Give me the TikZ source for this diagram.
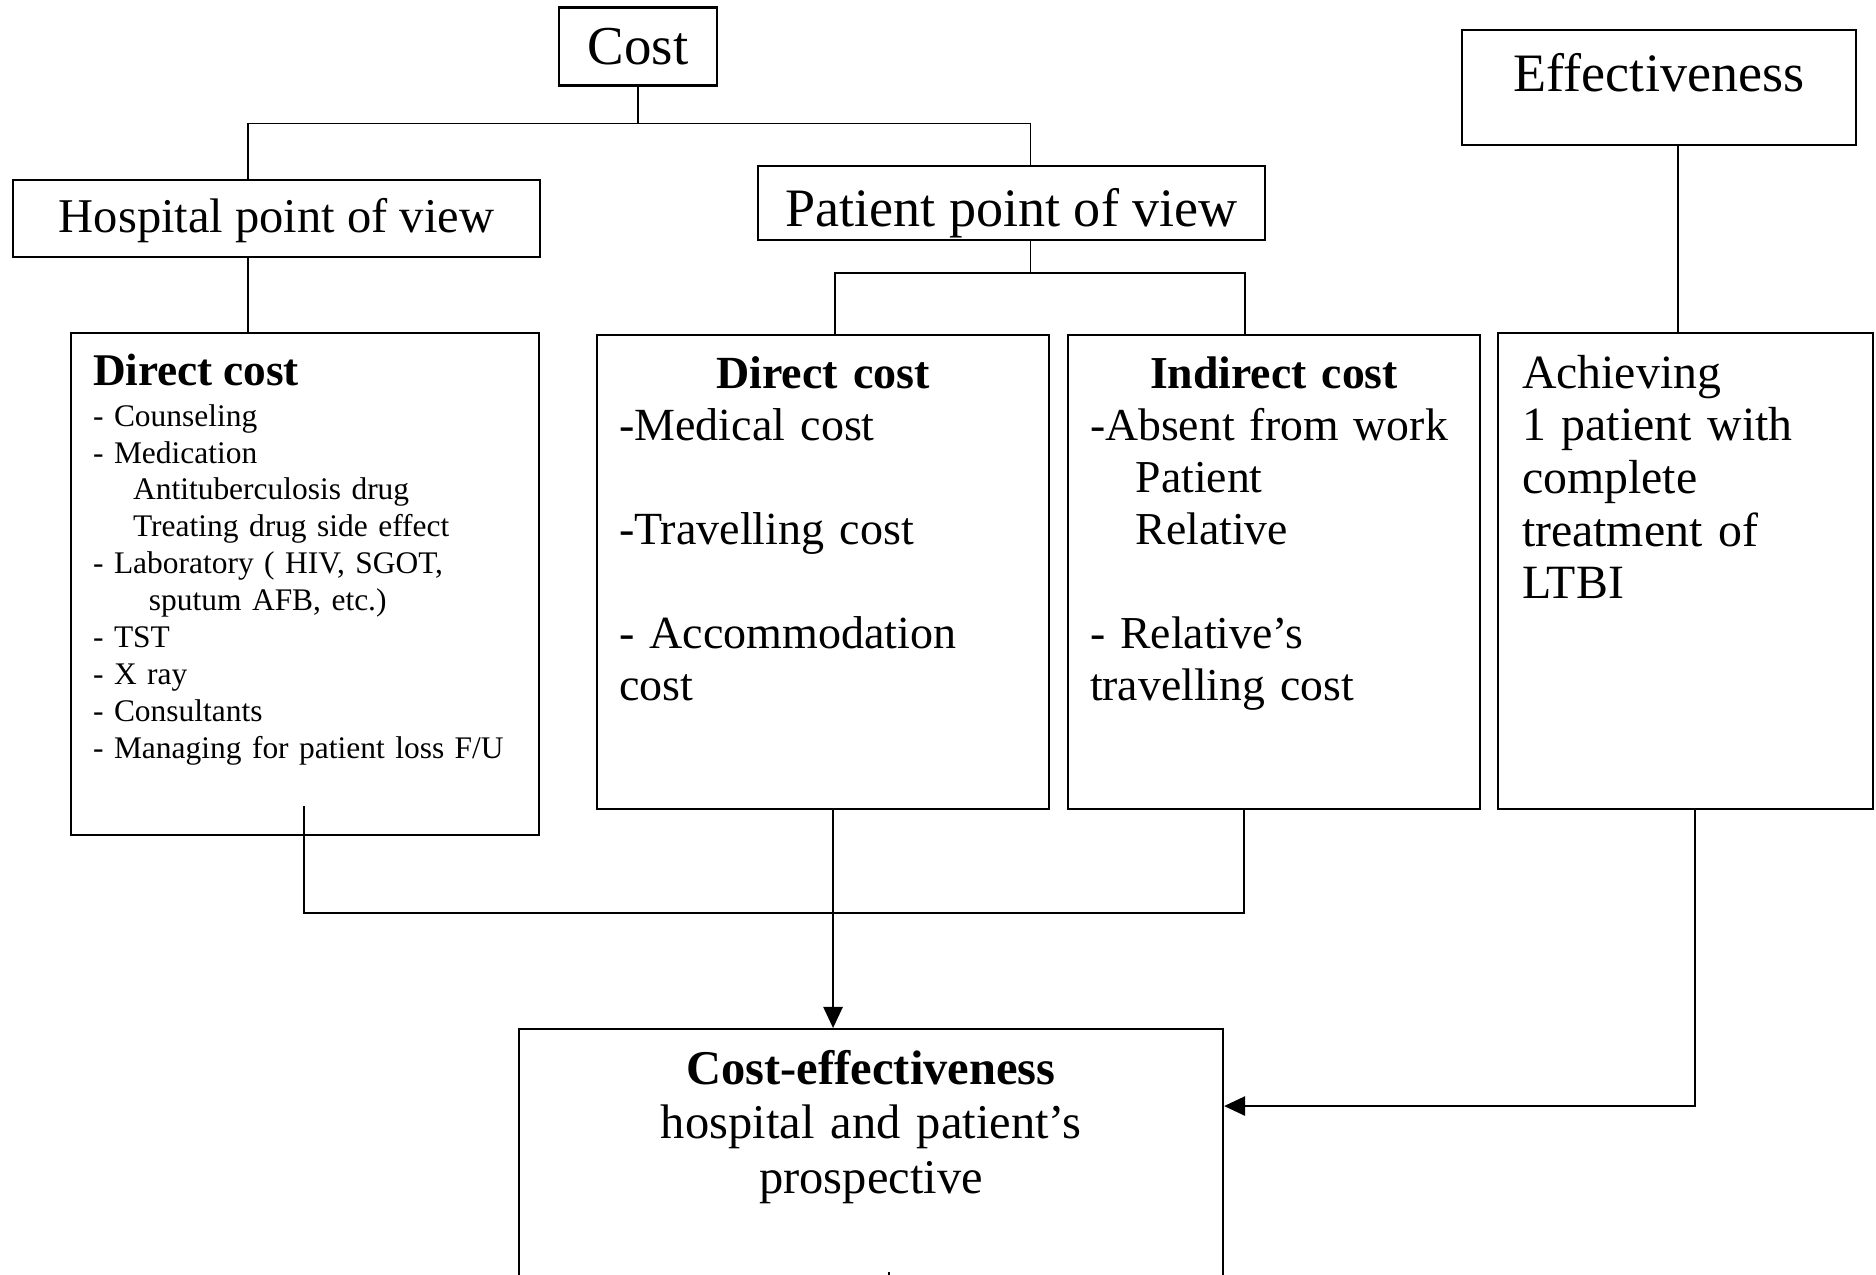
\documentclass[tikz,border=0pt]{standalone}
\usepackage{fontspec}
\setmainfont{Liberation Serif}
\usetikzlibrary{arrows.meta,calc}

\begin{document}
\begin{tikzpicture}[x=0.1mm, y=-0.1mm,
    head/.style={draw, line width=0.6pt, align=center, inner ysep=0pt},
    panel/.style={draw, line width=0.6pt, anchor=north west, align=left, inner xsep=2.2mm, inner ysep=0pt},
    link/.style={line width=0.5pt},
    flow/.style={link, -{Triangle[length=6pt,width=5.5pt]}}
]
\useasboundingbox (0,0) rectangle (1876,1275);
\clip (0,0) rectangle (1876,1275);

\node[head, minimum width=15.8mm, minimum height=7.8mm, font=\fontsize{15.6}{18}\selectfont] (cost) at (638,46.5) {Cost};
\node[head, minimum width=52.7mm, minimum height=7.7mm, text height=11pt, text depth=2.8pt, font=\fontsize{13.8}{16}\selectfont] (hosp) at (276.5,218.5) {Hospital point of view};
\node[head, minimum width=50.7mm, minimum height=7.4mm, text height=17pt, text depth=3.4pt, font=\fontsize{15.4}{18}\selectfont] (pat) at (1011.5,203) {Patient point of view};
\node[panel, align=center, inner xsep=0pt, text width=39.4mm, text height=6.1mm, text depth=5.4mm, font=\fontsize{15.4}{18}\selectfont] (eff) at (1461,29) {Effectiveness};

\node[panel, text width=42.4mm, text height=5.2mm, text depth=45mm, font=\fontsize{8.95}{10.5}\selectfont] (hdir) at (70,332) {{\fontsize{12.9}{10.5}\selectfont\bfseries Direct cost}\\[1.2pt]
- Counseling\\
- Medication\\
\hspace*{11.4pt}Antituberculosis drug\\
\hspace*{11.4pt}Treating drug side effect\\
- Laboratory ( HIV, SGOT,\\
\hspace*{15.9pt}sputum AFB, etc.)\\
- TST\\
- X ray\\
- Consultants\\
- Managing for patient loss F/U};
\node[panel, text width=40.8mm, text height=5.3mm, text depth=42.1mm, font=\fontsize{13.1}{14.8}\selectfont] (pdir) at (596,334) {\makebox[\linewidth]{\bfseries Direct cost}\\
-Medical cost\\[14.8pt]
-Travelling cost\\[14.8pt]
- Accommodation\\
cost};
\node[panel, text width=36.8mm, text height=5.3mm, text depth=42.1mm, font=\fontsize{13}{14.8}\selectfont] (indir) at (1067,334) {\makebox[\linewidth]{\bfseries Indirect cost}\\
-Absent from work\\
\hspace*{13pt}Patient\\
\hspace*{13pt}Relative\\[14.8pt]
- Relative's\\
travelling cost};
\node[panel, inner xsep=2.4mm, text width=32.7mm, text height=5.5mm, text depth=42.1mm, font=\fontsize{13.6}{15}\selectfont] (ach) at (1497,332) {Achieving\\1 patient with\\complete\\treatment of\\LTBI};
\node[panel, align=center, inner xsep=0pt, text width=70.4mm, text height=5.5mm, text depth=24.5mm, font=\fontsize{13.8}{15.6}\selectfont] (ce) at (518,1028) {\textbf{Cost-effectiveness}\\hospital and patient's\\prospective};

\coordinate (costbus) at ($(cost.south)+(0,37)$);
\draw[link] (cost.south) -- (costbus);
\draw[link] ($(hosp.north)+(-28.5,0)$) |- (costbus) -| ($(pat.north)+(19,0)$);
\coordinate (hstem) at ($(hosp.south)+(-28.5,0)$);
\draw[link] (hstem) -- (hstem |- hdir.north);
\coordinate (patbus) at ($(pat.south)+(19,32)$);
\draw[link] ($(pat.south)+(19,0)$) -- (patbus);
\draw[link] ($(pdir.north)+(12,0)$) |- (patbus) -| ($(indir.north)+(-29,0)$);
\coordinate (estem) at ($(eff.south)+(19,0)$);
\draw[link] (estem) -- (estem |- ach.north);

\draw[link] ($(hdir.south)+(-1,-30)$) |- ($(indir.south)+(-30,103)$) -- ($(indir.south)+(-30,0)$);
\draw[flow] ($(pdir.south)+(10,0)$) -- ($(ce.north)+(-38,0)$);
\draw[flow] ($(ach.south)+(9.5,0)$) |- ($(ce.east)+(0,-73)$);
\draw[link] ($(ce.south)+(18,-58)$) -- ($(ce.south)+(18,20)$);
\end{tikzpicture}
\end{document}
